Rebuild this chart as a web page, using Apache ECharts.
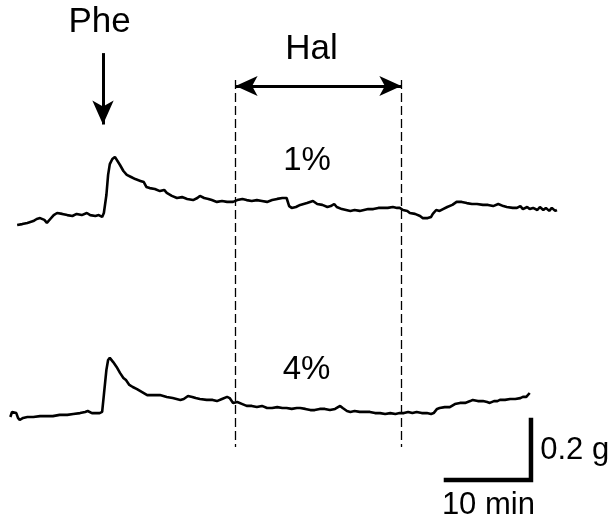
<!DOCTYPE html>
<html>
<head>
<meta charset="utf-8">
<script src="https://cdn.jsdelivr.net/npm/echarts@6/dist/echarts.min.js"></script>
<style>
  html, body { margin: 0; padding: 0; background: #fff; }
  #chart { width: 616px; height: 525px; }
</style>
</head>
<body>
<div id="chart"></div>
<script>
// time in minutes from Phe addition, tension in g relative to pre-Phe baseline
const time1 = [-10.1,-9.5,-8.9,-8.2,-7.8,-7.4,-6.9,-6.6,-6.2,-5.8,-5.4,-4.8,-4.2,-3.6,-3.1,-2.5,-1.9,-1.5,-0.9,-0.5,-0.1,
  0.1,0.4,0.6,0.8,1.1,1.4,1.6,2.0,2.4,2.8,3.3,3.8,4.4,4.8,5.1,5.5,6.1,6.7,7.2,7.5,8.1,8.7,9.3,9.9,10.6,11.1,11.4,11.9,12.4,12.8,
  13.4,14.0,14.6,15.3,15.8,16.4,16.9,17.5,18.1,18.7,19.3,19.9,20.5,21.1,21.6,21.9,22.2,22.7,23.2,23.6,24.0,24.7,25.2,25.8,26.4,
  26.8,27.2,27.5,28.1,28.6,29.1,29.6,30.2,30.7,31.2,31.8,32.4,32.9,33.5,34.1,34.6,34.9,35.3,35.8,36.1,36.7,37.3,37.6,38.2,38.6,
  38.8,39.2,39.6,40.0,40.5,41.1,41.6,42.2,42.8,43.4,44.0,44.7,45.3,45.9,46.5,46.7,47.1,47.5,48.2,48.7,49.1,49.4,49.9,50.2,50.6,
  51.1,51.4,51.8,52.1,52.5,52.8,53.2,53.4];
const tension1 = [-0.030,-0.027,-0.023,-0.017,-0.010,-0.007,-0.013,-0.023,-0.010,0.003,0.010,0.007,0.003,0.000,0.007,0.003,0.010,0.003,0.000,0.003,-0.003,
  0.010,0.070,0.137,0.173,0.190,0.197,0.193,0.170,0.150,0.137,0.130,0.123,0.117,0.113,0.097,0.093,0.090,0.083,0.087,0.077,0.067,0.060,0.063,0.057,0.053,0.060,0.067,0.060,0.057,0.053,
  0.047,0.050,0.047,0.047,0.053,0.057,0.053,0.050,0.053,0.050,0.047,0.053,0.057,0.060,0.060,0.033,0.027,0.030,0.037,0.040,0.043,0.050,0.040,0.037,0.030,
  0.033,0.040,0.030,0.023,0.020,0.017,0.020,0.017,0.020,0.023,0.023,0.027,0.027,0.027,0.030,0.027,0.027,0.020,0.017,0.010,0.007,0.000,-0.007,-0.007,-0.003,
  0.007,0.020,0.017,0.023,0.030,0.037,0.047,0.047,0.043,0.040,0.040,0.037,0.037,0.033,0.040,0.043,0.033,0.030,0.027,0.027,0.033,0.023,0.030,0.023,0.027,
  0.020,0.030,0.020,0.027,0.017,0.027,0.017,0.020];

const time2 = [-10.9,-10.7,-10.5,-10.2,-10.0,-9.8,-9.4,-8.9,-8.2,-7.4,-6.6,-5.9,-5.1,-4.2,-3.5,-2.7,-2.1,-1.8,-1.3,-0.8,-0.4,-0.1,
  0.1,0.4,0.6,0.8,1.2,1.6,2.0,2.4,2.7,3.1,3.5,4.0,4.6,5.2,5.9,6.7,7.5,8.2,9.1,9.5,10.0,10.5,10.9,11.4,12.2,12.9,13.4,14.0,14.6,14.9,
  15.3,15.8,16.4,16.9,17.5,18.1,18.7,19.3,19.9,20.5,21.1,21.6,22.2,22.8,23.2,23.8,24.4,24.9,25.5,26.1,26.7,27.3,27.9,28.2,28.7,
  29.1,29.6,30.2,30.8,31.4,32.0,32.6,33.2,33.8,34.4,34.9,35.4,35.9,36.4,36.9,37.5,38.1,38.6,38.9,39.3,39.6,40.2,40.8,41.4,42.0,
  42.6,43.2,43.5,44.1,44.7,45.2,45.5,46.0,46.4,46.7,47.3,47.9,48.5,49.1,49.4,49.8,50.0,50.2];
const tension2 = [-0.010,0.007,0.013,0.003,-0.013,-0.020,-0.013,-0.010,-0.010,-0.007,-0.007,-0.007,-0.003,-0.003,0.000,0.003,0.007,0.010,0.003,0.003,0.003,0.007,
  0.063,0.147,0.180,0.187,0.173,0.157,0.137,0.120,0.113,0.097,0.090,0.083,0.073,0.063,0.063,0.063,0.057,0.053,0.047,0.050,0.060,0.057,0.053,0.050,0.047,0.047,0.043,0.050,0.057,0.053,
  0.037,0.040,0.033,0.027,0.027,0.023,0.027,0.020,0.020,0.023,0.020,0.020,0.017,0.020,0.020,0.017,0.013,0.013,0.017,0.017,0.013,0.017,0.027,0.020,0.010,
  0.007,0.010,0.007,0.007,0.007,0.003,0.003,0.000,0.003,0.000,0.003,0.003,0.007,0.003,0.007,0.003,0.003,0.000,0.003,0.017,0.020,0.023,0.023,0.033,0.037,
  0.037,0.043,0.047,0.043,0.043,0.040,0.037,0.043,0.043,0.047,0.047,0.050,0.050,0.053,0.057,0.057,0.063,0.070];

const pheTime = 0;
const halStart = 15.6;
const halEnd = 35.1;
const scaleTime = 10;    // min
const scaleTension = 0.2; // g

// vertical placement of each trace on the page (g)
const offset1 = 1.03;
const offset2 = 0.37;

const X_MIN = -103 / 8.5;
const X_MAX = 513 / 8.5;

const chart = echarts.init(document.getElementById('chart'));

const trace = (ts, vs, off) => ts.map((t, i) => [t, vs[i] + off]);
const font = '"Liberation Sans", Arial, sans-serif';

const texts = [
  { value: [-0.35, 1.675], name: 'Phe', size: 35, align: 'center' },
  { value: [24.6, 1.583], name: 'Hal', size: 35, align: 'center' },
  { value: [24.06, 1.213], name: '1%', size: 33, align: 'center' },
  { value: [24.0, 0.515], name: '4%', size: 33, align: 'center' },
  { value: [51.5, 0.247], name: '0.2 g', size: 31, align: 'left' },
  { value: [45.4, 0.063], name: '10 min', size: 31, align: 'center' }
];

const sx = 50.35, sy = 0.15;
const dash = { type: [9, 4], width: 1.3, color: '#000' };

chart.setOption({
  animation: false,
  grid: { left: 0, right: 0, top: 0, bottom: 0 },
  xAxis: { type: 'value', min: X_MIN, max: X_MAX, show: false },
  yAxis: { type: 'value', min: 0, max: 1.75, show: false },
  series: [
    {
      name: '1%', type: 'line', showSymbol: false, symbol: 'none',
      lineStyle: { color: '#000', width: 2.6 },
      data: trace(time1, tension1, offset1)
    },
    {
      name: '4%', type: 'line', showSymbol: false, symbol: 'none',
      lineStyle: { color: '#000', width: 2.6 },
      data: trace(time2, tension2, offset2)
    },
    {
      name: 'scale', type: 'line', showSymbol: false, symbol: 'none',
      lineStyle: { color: '#000', width: 4.5, join: 'miter', cap: 'square' },
      data: [[sx - scaleTime, sy], [sx, sy], [sx, sy + scaleTension]],
      markLine: {
        silent: true,
        animation: false,
        label: { show: false },
        data: [
          [{ coord: [halStart, 1.483], symbol: 'none', lineStyle: dash },
           { coord: [halStart, 0.26], symbol: 'none' }],
          [{ coord: [halEnd, 1.483], symbol: 'none', lineStyle: dash },
           { coord: [halEnd, 0.26], symbol: 'none' }],
          [{ coord: [halStart, 1.463], symbol: 'arrow', symbolSize: [15, 22], lineStyle: { type: 'solid', width: 3, color: '#000' } },
           { coord: [halEnd, 1.463], symbol: 'arrow', symbolSize: [15, 22] }],
          [{ coord: [pheTime, 1.573], symbol: 'none', lineStyle: { type: 'solid', width: 3, color: '#000' } },
           { coord: [pheTime, 1.335], symbol: 'arrow', symbolSize: [16, 24] }]
        ]
      }
    },
    {
      name: 'labels', type: 'scatter', symbolSize: 1,
      itemStyle: { color: 'rgba(0,0,0,0)', opacity: 1 },
      data: texts.map(d => ({
        value: d.value, name: d.name,
        label: {
          show: true, formatter: d.name, position: [0, 0],
          align: d.align, verticalAlign: 'middle',
          fontSize: d.size, fontFamily: font, color: '#000'
        }
      }))
    }
  ]
});
</script>
</body>
</html>
